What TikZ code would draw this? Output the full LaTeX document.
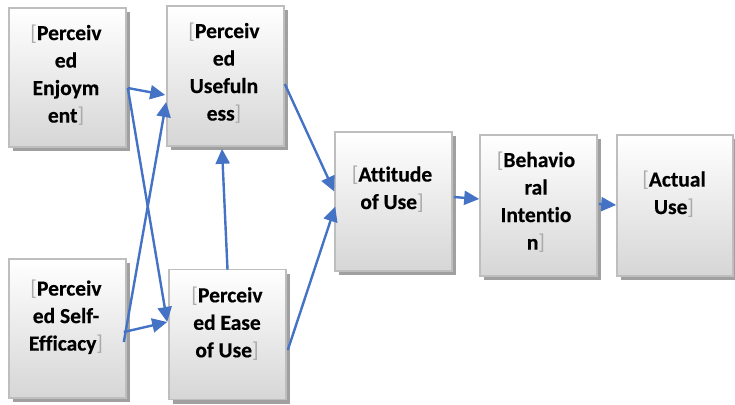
\documentclass[tikz,border=0pt]{standalone}
\usepackage{fontspec}
\setmainfont[Ligatures=NoCommon,BoldFeatures={FakeBold=0.4}]{Carlito}
\usetikzlibrary{shadows,arrows.meta}
\definecolor{arrowblue}{RGB}{68,114,196}
\definecolor{boxedge}{RGB}{190,190,190}
\definecolor{boxbottom}{RGB}{214,214,214}
\definecolor{shadowgray}{RGB}{160,160,160}
\definecolor{brk}{RGB}{170,170,170}
\newcommand{\lb}{{\fontseries{m}\selectfont\textcolor{brk}{[}}}
\newcommand{\rb}{{\fontseries{m}\selectfont\textcolor{brk}{]}}}
\begin{document}
\begin{tikzpicture}[x=1pt,y=-1pt,
  box/.style={draw=boxedge, line width=1.6pt, top color=white, bottom color=boxbottom,
    minimum width=117pt, inner sep=0pt,
    drop shadow={shadow xshift=4pt, shadow yshift=-4pt, fill=shadowgray, opacity=1}},
  lbl/.style={align=center, font=\fontsize{21.5}{27.5}\selectfont\bfseries, inner sep=0pt},
  arr/.style={draw=arrowblue, line width=2.4pt, -{Triangle[length=15pt,width=14pt]}, arrowblue}
]
\useasboundingbox (0,0) rectangle (735,404);
% boxes
\node[box, minimum height=139pt] (enj) at (67.5,77.5) {};
\node[box, minimum height=140pt] (use) at (225.5,76) {};
\node[box, minimum height=139pt] (se)  at (67.5,328.5) {};
\node[box, minimum height=130pt] (eou) at (227.5,334.5) {};
\node[box, minimum height=139pt] (att) at (393.5,201.5) {};
\node[box, minimum height=141pt] (bi)  at (538.5,205.5) {};
\node[box, minimum width=116pt, minimum height=141pt] (au) at (675,205.5) {};
% labels
\node[lbl] (enjT) at (66,75) {\lb Perceiv\\ed\\Enjoym\\ent\rb};
\node[lbl] (useT) at (224,73) {\lb Perceiv\\ed\\Usefuln\\ess\rb};
\node[lbl] (seT)  at (66,317) {\lb Perceiv\\ed Self-\\Efficacy\rb};
\node[lbl] (eouT) at (227,323.5) {\lb Perceiv\\ed Ease\\of Use\rb};
\node[lbl] (attT) at (392,189) {\lb Attitude\\of Use\rb};
\node[lbl] (biT)  at (536,202) {\lb Behavio\\ral\\Intentio\\n\rb};
\node[lbl] (auT)  at (674,194) {\lb Actual\\Use\rb};
% connectors
\draw[arr] ([shift={(1,10.5)}]enj.east) -- ([shift={(-1,19)}]use.west);
\draw[arr] ([shift={(1,10.5)}]enj.east) -- ([shift={(-1,-12.5)}]eou.west);
\draw[arr] ([shift={(-3,13.5)}]se.east) -- ([shift={(0,26)}]use.west);
\draw[arr] ([shift={(-3,3.5)}]se.east) -- ([shift={(-1,-12.5)}]eou.west);
\draw[arr] ([shift={(0,1)}]eou.north) -- ([shift={(-3.5,2)}]use.south);
\draw[arr] ([shift={(0,8)}]use.east) -- ([shift={(0,-10)}]att.west);
\draw[arr] ([shift={(1,15.5)}]eou.east) -- ([shift={(1,5)}]att.west);
\draw[arr] ([shift={(1,-4.5)}]att.east) -- ([shift={(0,-6.5)}]bi.west);
\draw[arr] ([shift={(1,-1.5)}]bi.east) -- ([shift={(0,-0.5)}]au.west);
\end{tikzpicture}
\end{document}
